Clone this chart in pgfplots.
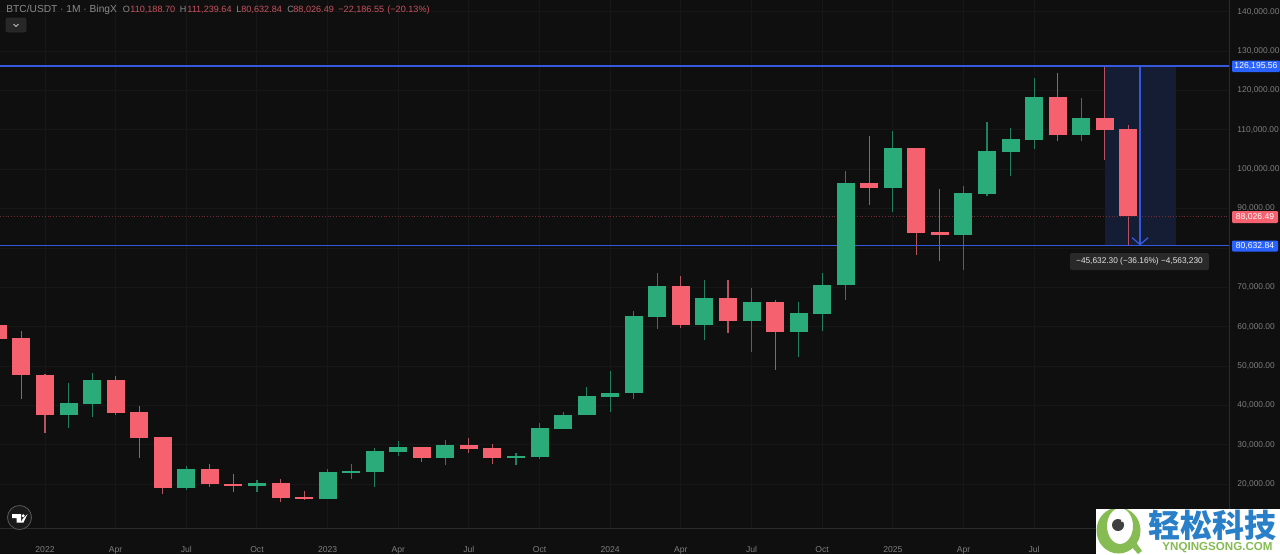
\documentclass[border=0pt]{standalone}
\usepackage{pgfplots}
\usepackage{pgfplotstable}
\usepackage{fontspec}
\pgfplotsset{compat=1.18}
\usetikzlibrary{arrows.meta}
\setmainfont{Liberation Sans}
\newfontfamily\cjk{Noto Sans CJK SC}
\definecolor{bg}{HTML}{0F0F0F}
\definecolor{gridc}{HTML}{171717}
\definecolor{axisc}{HTML}{2B2B2B}
\definecolor{upc}{HTML}{2BAB79}
\definecolor{dnc}{HTML}{F6616F}
\definecolor{upw}{HTML}{23805C}
\definecolor{dnw}{HTML}{B5535E}
\definecolor{bluel}{HTML}{3558DC}
\definecolor{blueb}{HTML}{2962FF}
\definecolor{zonec}{HTML}{141D33}
\definecolor{tickc}{HTML}{7E7E7E}
\definecolor{wmg}{HTML}{86BC53}
\definecolor{wmb}{HTML}{2A80C8}
\pgfplotstableread{
x o h l c
-2 60453 61200 56976 56976
-1 57153 58907 41593 47837
0 47890 47938 32960 37533
3 46493 47509 37687 38193
4 38370 39970 26695 31845
5 32100 32100 17632 19000
7 23825 25170 19413 20020
8 20170 22710 18140 19510
10 20350 21440 15530 16540
11 16790 18390 16110 16360
16 29560 29560 25755 26695
18 30070 31770 27960 29055
19 29155 30250 25250 26695
27 70277 72891 59768 60529
29 67230 71876 58346 61469
31 66368 66799 48955 58753
35 96573 108351 90913 95228
37 105457 105457 78298 83806
38 84059 94898 76622 83298
43 118250 124342 107158 108757
45 112996 126195.56 102259 109950
46 110188.70 111239.64 80632.84 88026.49
}\redtable
\pgfplotstableread{
x o h l c
1 37533 45807 34233 40732
2 40475 48195 37181 46493
6 19000 24740 18496 23825
9 19510 21033 18140 20350
12 16360 23980 16280 23065
13 22880 25170 21290 23395
14 23215 29155 19413 28470
15 28290 30930 27200 29560
17 26695 31260 24960 30070
20 26770 27890 24960 27125
21 26870 35650 26515 34235
22 34055 38295 34055 37685
23 37533 44792 37533 42355
24 42177 48853 38446 43193
25 43117 64084 41746 62738
26 62560 73728 59361 70277
28 60529 71876 56646 67230
30 61469 69845 53676 66368
32 58753 66368 52331 63423
33 63321 73576 58930 70606
34 70530 99543 66799 96573
36 95228 109696 89136 105457
39 83298 95812 74414 93883
40 93705 111981 93273 104544
41 104442 110382 98274 107666
42 107488 123149 105051 118250
44 108757 117996 107234 112996
}\greentable
\pgfplotsset{
  wick/.style={forget plot,draw=none,mark=none,
    error bars/.cd,y dir=both,y explicit,error mark=none,
    error bar style={line width=0.55pt,color=#1}},
  body/.style={forget plot,draw=none,mark=none,
    error bars/.cd,y dir=plus,y explicit,error mark=none,
    error bar style={line width=9pt,color=#1}},
}
\begin{document}
\begin{tikzpicture}
\path[use as bounding box,fill=bg] (0,0) rectangle (640pt,277pt);
\begin{axis}[
  at={(0pt,13pt)},anchor=south west,
  width=614.5pt,height=264pt,scale only axis,
  xmin=-1.911,xmax=50.276,
  ymin=8928,ymax=142948,
  axis y line*=right,
  axis x line*=bottom,
  axis line style={axisc,line width=0.5pt,-},
  major tick length=0pt,
  grid=major,
  grid style={gridc,line width=0.5pt},
  scaled y ticks=false,
  ytick={20000,30000,40000,50000,60000,70000,90000,100000,110000,120000,130000,140000},
  xtick={0,3,6,9,12,15,18,21,24,27,30,33,36,39,42},
  xticklabels={2022,Apr,Jul,Oct,2023,Apr,Jul,Oct,2024,Apr,Jul,Oct,2025,Apr,Jul},
  /pgf/number format/assume math mode=true,
  yticklabel style={font=\fontsize{4.2pt}{5pt}\selectfont,text=tickc,
    /pgf/number format/fixed,/pgf/number format/fixed zerofill,
    /pgf/number format/precision=2,/pgf/number format/1000 sep={,},
    anchor=west,xshift=4pt,inner sep=0pt},
  xticklabel style={font=\fontsize{4.3pt}{5pt}\selectfont,text=tickc,
    anchor=center,yshift=-11pt,inner sep=0pt,text height=3.2pt,text depth=0.9pt},
  clip=true,
]
\addplot[forget plot,gridc,line width=0.5pt] coordinates {(-1.911,80000) (50.276,80000)};
\addplot[forget plot,fill=zonec,draw=none] coordinates {(44.99,126195.56) (48.01,126195.56) (48.01,80632.84) (44.99,80632.84)} --cycle;
\addplot[wick=dnw] table[x=x,y=c,y error plus expr=\thisrow{h}-\thisrow{c},y error minus expr=\thisrow{c}-\thisrow{l}] {\redtable};
\addplot[wick=upw] table[x=x,y=c,y error plus expr=\thisrow{h}-\thisrow{c},y error minus expr=\thisrow{c}-\thisrow{l}] {\greentable};
\addplot[forget plot,dnc!45!black,line width=0.4pt,densely dotted] coordinates {(-1.911,88026.49) (50.276,88026.49)};
\addplot[forget plot,fill=bluel,draw=none] coordinates {(-1.911,80440) (50.276,80440) (50.276,80825) (-1.911,80825)} --cycle;
\addplot[body=dnc] table[x=x,y=c,y error plus expr=\thisrow{o}-\thisrow{c},y error minus expr=0] {\redtable};
\addplot[body=upc] table[x=x,y=o,y error plus expr=\thisrow{c}-\thisrow{o},y error minus expr=0] {\greentable};
\addplot[forget plot,draw=bluel,line width=0.7pt] coordinates {(-1.911,126195.56) (50.276,126195.56)};
\addplot[forget plot,draw=bluel,line width=0.65pt,-{Straight Barb[length=3.5pt,width=8pt,line width=0.65pt]}] coordinates {(46.5,126195.56) (46.5,80632.84)};
\end{axis}
\begin{scope}[x=0.5pt,y=-0.5pt,yshift=277pt]
\def\hdr{\fontsize{4.55pt}{5pt}\selectfont}
\definecolor{hg}{HTML}{8A8A8A}
\definecolor{hr}{HTML}{C9525E}
\tikzset{h/.style={anchor=base west,inner sep=0pt,font=\hdr}}
\node[anchor=base west,inner sep=0pt,text=hg,font=\fontsize{5.1pt}{6pt}\selectfont] at (6,12.3) {BTC/USDT · 1M · BingX};
\node[h,text=hg] at (122.5,12) {O};
\node[h,text=hr] at (130,12) {110,188.70};
\node[h,text=hg] at (179.5,12) {H};
\node[h,text=hr] at (187,12) {111,239.64};
\node[h,text=hg] at (236,12) {L};
\node[h,text=hr] at (241,12) {80,632.84};
\node[h,text=hg] at (287,12) {C};
\node[h,text=hr] at (293,12) {88,026.49};
\node[h,text=hr] at (338,12) {−22,186.55};
\node[h,text=hr] at (387,12) {(−20.13\%)};
\draw[draw=axisc,fill=bg!90!white,rounded corners=1pt,line width=0.4pt] (6,18) rectangle (26,32);
\draw[white!75!black,line width=0.4pt] (13.5,24) -- (16,26.5) -- (18.5,24);
\tikzset{pl/.style={inner sep=0pt,font=\fontsize{4.3pt}{5pt}\selectfont,text=white}}
\fill[blueb,rounded corners=0.6pt] (1232,60.5) rectangle (1280,72);
\node[pl] at (1256,66.2) {126,195.56};
\fill[dnc,rounded corners=0.6pt] (1232,211) rectangle (1278,223);
\node[pl] at (1255,216.8) {88,026.49};
\fill[blueb,rounded corners=0.6pt] (1232,240.5) rectangle (1278,251.5);
\node[pl] at (1255,246) {80,632.84};
\fill[white!16!black,rounded corners=1pt] (1070,253) rectangle (1209,270);
\node[inner sep=0pt,font=\fontsize{4.15pt}{5pt}\selectfont,text=white!90!black] at (1139.5,261.5) {−45,632.30 (−36.16\%) −4,563,230};
\draw[fill=white!10!black,draw=white!35!black,line width=0.4pt] (19.5,517.5) circle (12);
\fill[white] (12,514) -- (21,514) -- (21,522.5) -- (16.5,522.5) -- (16.5,518) -- (12,518) -- cycle;
\fill[white] (23,518.5) -- (27.5,514) -- (23.5,522.5) -- (20.5,522.5) -- cycle;
\fill[white] (23.2,515.8) circle (1.7);
\fill[white] (1096,509) rectangle (1280,554);
\begin{scope}
\clip (1096,509) rectangle (1280,554);
\fill[wmg,even odd rule] (1118.5,530.5) ellipse (22 and 23) (1120,526) ellipse (13 and 18);
\fill[wmg] (1130,545) -- (1135,541) -- (1142,551) -- (1138,554) -- cycle;
\fill[black!75!white] (1118,525) circle (6);
\fill[white] (1122,521) circle (1.2);
\end{scope}
\node[inner sep=0pt,text=wmb,font=\cjk\bfseries\fontsize{16pt}{16pt}\selectfont] at (1212,525.5) {轻松科技};
\node[inner sep=0pt,text=wmg,font=\bfseries\fontsize{5.8pt}{7pt}\selectfont] at (1217.5,548) {YNQINGSONG.COM};
\end{scope}
\end{tikzpicture}
\end{document}
